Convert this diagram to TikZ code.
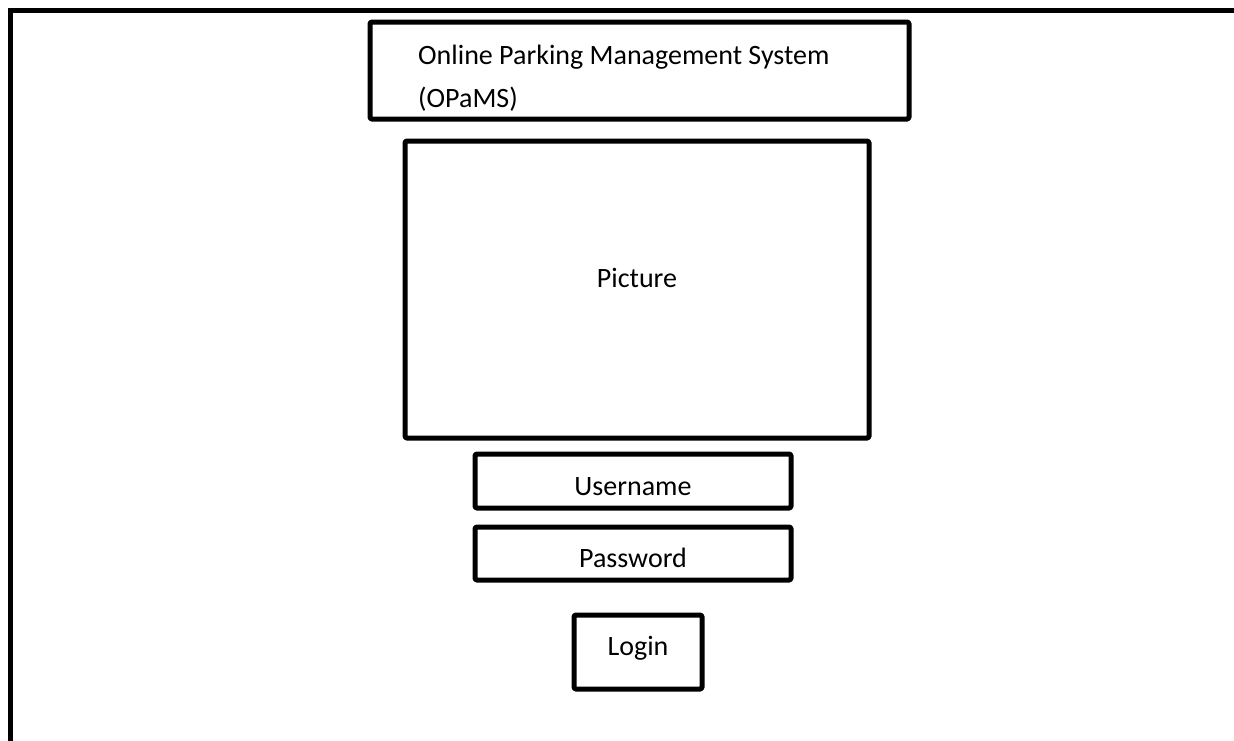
\documentclass[tikz,border=0pt]{standalone}
\usepackage{fontspec}
\setmainfont{Carlito}
\begin{document}
\begin{tikzpicture}[x=1pt,y=-1pt,
  box/.style={draw=black,line width=5pt,line join=round,rounded corners=1.5pt},
  lbl/.style={font=\fontsize{28}{34}\selectfont,inner sep=0pt,anchor=center},
  frame/.style={draw=black,line width=5pt,line join=miter}]
\useasboundingbox (0,0) rectangle (1234,740);
% outer frame (cut off on the right and bottom)
\coordinate (fbl) at (10.5,745);
\coordinate (ftl) at (10.5,10);
\coordinate (ftr) at (1240,10);
\draw[frame] (fbl) -- (ftl) -- (ftr);
% title
\draw[box] (370,22) rectangle (909,119);
\node[lbl,anchor=base west] (t1) at (418,64) {Online Parking Management System};
\node[lbl,anchor=base west] (t2) at (418,107) {(OPaMS)};
% picture
\draw[box] (405,141) rectangle (869,438);
\node[lbl] (pic) at (637,278) {Picture};
% username
\draw[box] (475,454) rectangle (791,508);
\node[lbl] (user) at (633,487) {Username};
% password
\draw[box] (475,527) rectangle (791,580);
\node[lbl] (pass) at (633,558) {Password};
% login
\draw[box] (574,615) rectangle (702,689);
\node[lbl] (login) at (638,648) {Login};
\end{tikzpicture}
\end{document}
